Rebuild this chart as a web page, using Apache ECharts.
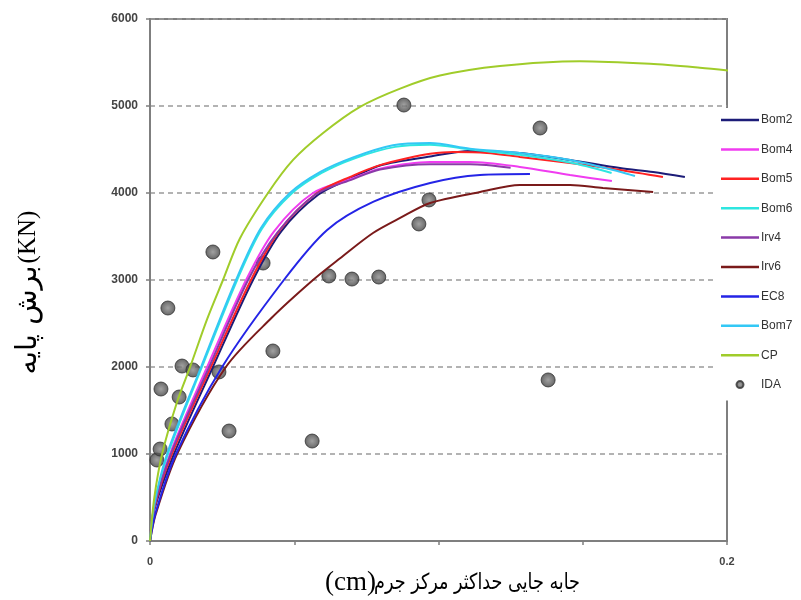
<!DOCTYPE html>
<html>
<head>
<meta charset="utf-8">
<script src="https://cdn.jsdelivr.net/npm/echarts@6/dist/echarts.min.js"></script>
<style>
  html, body { margin: 0; padding: 0; background: #ffffff; }
  #chart { width: 801px; height: 600px; }
</style>
</head>
<body>
<div id="chart"></div>
<script>
// Pushover curves: base shear (KN) against peak drift of the centre of mass (cm)
const seriesNames = ['Bom2', 'Bom4', 'Bom5', 'Bom6', 'Irv4', 'Irv6', 'EC8', 'Bom7', 'CP'];

const bom2 = [[0,0],[0.0015,360],[0.0083,1000],[0.0218,2000],[0.0357,3000],[0.0455,3560],[0.0583,3980],[0.0704,4180],[0.0800,4320],[0.0971,4420],[0.1109,4483],[0.1282,4460],[0.1456,4380],[0.1629,4287],[0.1744,4241],[0.1854,4184]];
const bom4 = [[0,0],[0.0015,400],[0.0069,1000],[0.0198,2000],[0.0333,3000],[0.0430,3560],[0.0565,4000],[0.0704,4170],[0.0797,4280],[0.0971,4356],[0.1109,4356],[0.1282,4300],[0.1456,4207],[0.1601,4138]];
const bom5 = [[0,0],[0.0015,380],[0.0076,1000],[0.0211,2000],[0.0350,3000],[0.0451,3575],[0.0579,4000],[0.0704,4200],[0.0797,4320],[0.0891,4400],[0.0971,4450],[0.1050,4470],[0.1168,4460],[0.1282,4415],[0.1456,4345],[0.1629,4265],[0.1778,4185]];
const bom6 = [[0,0],[0.0015,410],[0.0062,1000],[0.0180,2000],[0.0302,3000],[0.0388,3590],[0.0490,3990],[0.0595,4230],[0.0710,4400],[0.0850,4530],[0.0970,4555],[0.1110,4500],[0.1280,4440],[0.1456,4350],[0.1600,4230]];
const irv4 = [[0,0],[0.0015,390],[0.0072,1000],[0.0205,2000],[0.0340,3000],[0.0440,3540],[0.0572,3980],[0.0704,4160],[0.0797,4270],[0.0971,4330],[0.1109,4330],[0.1250,4290]];
const irv6 = [[0,0],[0.0020,310],[0.0094,1000],[0.0263,2000],[0.0420,2560],[0.0565,3000],[0.0659,3250],[0.0773,3540],[0.0867,3713],[0.0971,3885],[0.1144,4011],[0.1282,4092],[0.1456,4092],[0.1570,4057],[0.1744,4011]];
const ec8 = [[0,0],[0.0020,330],[0.0090,1000],[0.0250,2000],[0.0464,3000],[0.0614,3575],[0.0775,3900],[0.0971,4115],[0.1144,4207],[0.1317,4218]];
const bom7 = [[0,0],[0.0015,420],[0.0059,1000],[0.0177,2000],[0.0298,3000],[0.0385,3600],[0.0485,4000],[0.0589,4240],[0.0704,4410],[0.0842,4550],[0.0971,4575],[0.1109,4510],[0.1282,4460],[0.1456,4380],[0.1629,4245],[0.1681,4195]];
const cp = [[0,0],[0.0015,500],[0.0042,1000],[0.0094,1600],[0.0139,2000],[0.0198,2550],[0.0253,3000],[0.0312,3480],[0.0409,4000],[0.0496,4380],[0.0600,4690],[0.0728,4990],[0.0867,5200],[0.1005,5350],[0.1213,5460],[0.1490,5515],[0.1733,5485],[0.1906,5440],[0.2028,5400]];

// Nonlinear time-history (IDA) results
const ida = [[0.0024,931],[0.0035,1057],[0.0076,1345],[0.0101,1655],[0.0038,1747],[0.0111,2011],[0.0149,1966],[0.0239,1943],[0.0274,1264],[0.0062,2678],[0.0218,3322],[0.0392,3195],[0.0426,2184],[0.0562,1149],[0.0620,3046],[0.0700,3011],[0.0793,3034],[0.0880,5011],[0.0932,3644],[0.0967,3920],[0.1352,4747],[0.1380,1851]];

const curveData = [bom2, bom4, bom5, bom6, irv4, irv6, ec8, bom7, cp];

const xTickLabels = ['0', '0.2'];
const xTitleText = 'جابه جایی حداکثر مرکز جرم';
const xTitleUnit = '(cm)';
const yTitleText = 'برش پایه';
const yTitleUnit = '(KN)';

const palette = {
  Bom2: '#1c1c78', Bom4: '#f03cf0', Bom5: '#ff2222', Bom6: '#2ee6e0',
  Irv4: '#8a3aa8', Irv6: '#7a1a1a', EC8: '#2424e6', Bom7: '#33c8f5', CP: '#a0cc2a'
};

const chart = echarts.init(document.getElementById('chart'), null, { renderer: 'canvas' });

const lineSeries = seriesNames.map((name, i) => ({
  name: name,
  type: 'line',
  data: curveData[i],
  symbol: 'none',
  smooth: 0.3,
  clip: name !== 'CP',
  lineStyle: { color: palette[name], width: 2 },
  itemStyle: { color: palette[name] }
}));

// thin bar used as the legend key for every curve
const lineKey = 'path://M0,0H15V1H0Z';

const serifFont = '"Liberation Serif", "Times New Roman", serif';
const arabicFont = '"DejaVu Sans", sans-serif';

const option = {
  backgroundColor: '#ffffff',
  animation: false,
  grid: {
    left: 150, top: 19, right: 74, bottom: 59,
    show: true, borderColor: '#7f7f7f', borderWidth: 2, backgroundColor: 'transparent'
  },
  xAxis: {
    type: 'value', min: 0, max: 0.2, interval: 0.05,
    axisLine: { show: true, lineStyle: { color: '#7f7f7f', width: 2 } },
    axisTick: { show: true, length: 4, lineStyle: { color: '#7f7f7f', width: 1.5 } },
    splitLine: { show: false },
    axisLabel: {
      margin: 15, color: '#444', fontSize: 11, fontWeight: 'bold',
      fontFamily: 'Liberation Sans, Arial, sans-serif',
      formatter: v => (Math.abs(v) < 1e-9 ? xTickLabels[0] : (Math.abs(v - 0.2) < 1e-9 ? xTickLabels[1] : ''))
    }
  },
  yAxis: {
    type: 'value', min: 0, max: 6000, interval: 1000,
    axisLine: { show: true, lineStyle: { color: '#7f7f7f', width: 2 } },
    axisTick: { show: true, length: 4, lineStyle: { color: '#7f7f7f', width: 1.5 } },
    splitLine: { show: true, lineStyle: { color: '#9a9a9a', width: 1.5, type: [5, 4] } },
    axisLabel: {
      margin: 12, color: '#444', fontSize: 12, fontWeight: 'bold',
      fontFamily: 'Liberation Sans, Arial, sans-serif',
      formatter: v => String(v)
    }
  },
  legend: {
    orient: 'vertical',
    left: 717, top: 108,
    padding: [6, 4, 10, 4],
    backgroundColor: '#ffffff',
    itemWidth: 38, itemHeight: 7, itemGap: 17.4,
    textStyle: { color: '#333', fontSize: 12, fontFamily: 'Liberation Sans, Arial, sans-serif', padding: [0, 0, 0, -3] },
    data: seriesNames.map(n => ({ name: n, icon: lineKey })).concat([{ name: 'IDA', icon: 'circle' }])
  },
  graphic: [
    {
      type: 'text', x: 325, y: 583, z: 10,
      style: { text: xTitleUnit, fill: '#000', align: 'left', verticalAlign: 'middle', font: '27px ' + serifFont }
    },
    {
      type: 'text', x: 580, y: 583, z: 10, scaleX: 0.8,
      style: { text: xTitleText, fill: '#000', align: 'right', verticalAlign: 'middle', font: '22px ' + arabicFont }
    },
    {
      type: 'text', x: 28, y: 237, rotation: Math.PI / 2, z: 10,
      style: { text: yTitleUnit, fill: '#000', align: 'center', verticalAlign: 'middle', font: '25px ' + serifFont }
    },
    {
      type: 'text', x: 28, y: 320, rotation: Math.PI / 2, z: 10,
      style: { text: yTitleText, fill: '#000', align: 'center', verticalAlign: 'middle', font: '29px ' + arabicFont }
    }
  ],
  series: lineSeries.concat([{
    name: 'IDA',
    type: 'scatter',
    data: ida,
    symbol: 'circle',
    symbolSize: 14,
    itemStyle: {
      color: {
        type: 'radial', x: 0.5, y: 0.5, r: 0.5,
        colorStops: [{ offset: 0, color: '#8a8a8a' }, { offset: 0.6, color: '#5e5e5e' }, { offset: 1, color: '#3a3a3a' }]
      },
      borderColor: '#333', borderWidth: 1
    }
  }])
};

chart.setOption(option);
</script>
</body>
</html>
